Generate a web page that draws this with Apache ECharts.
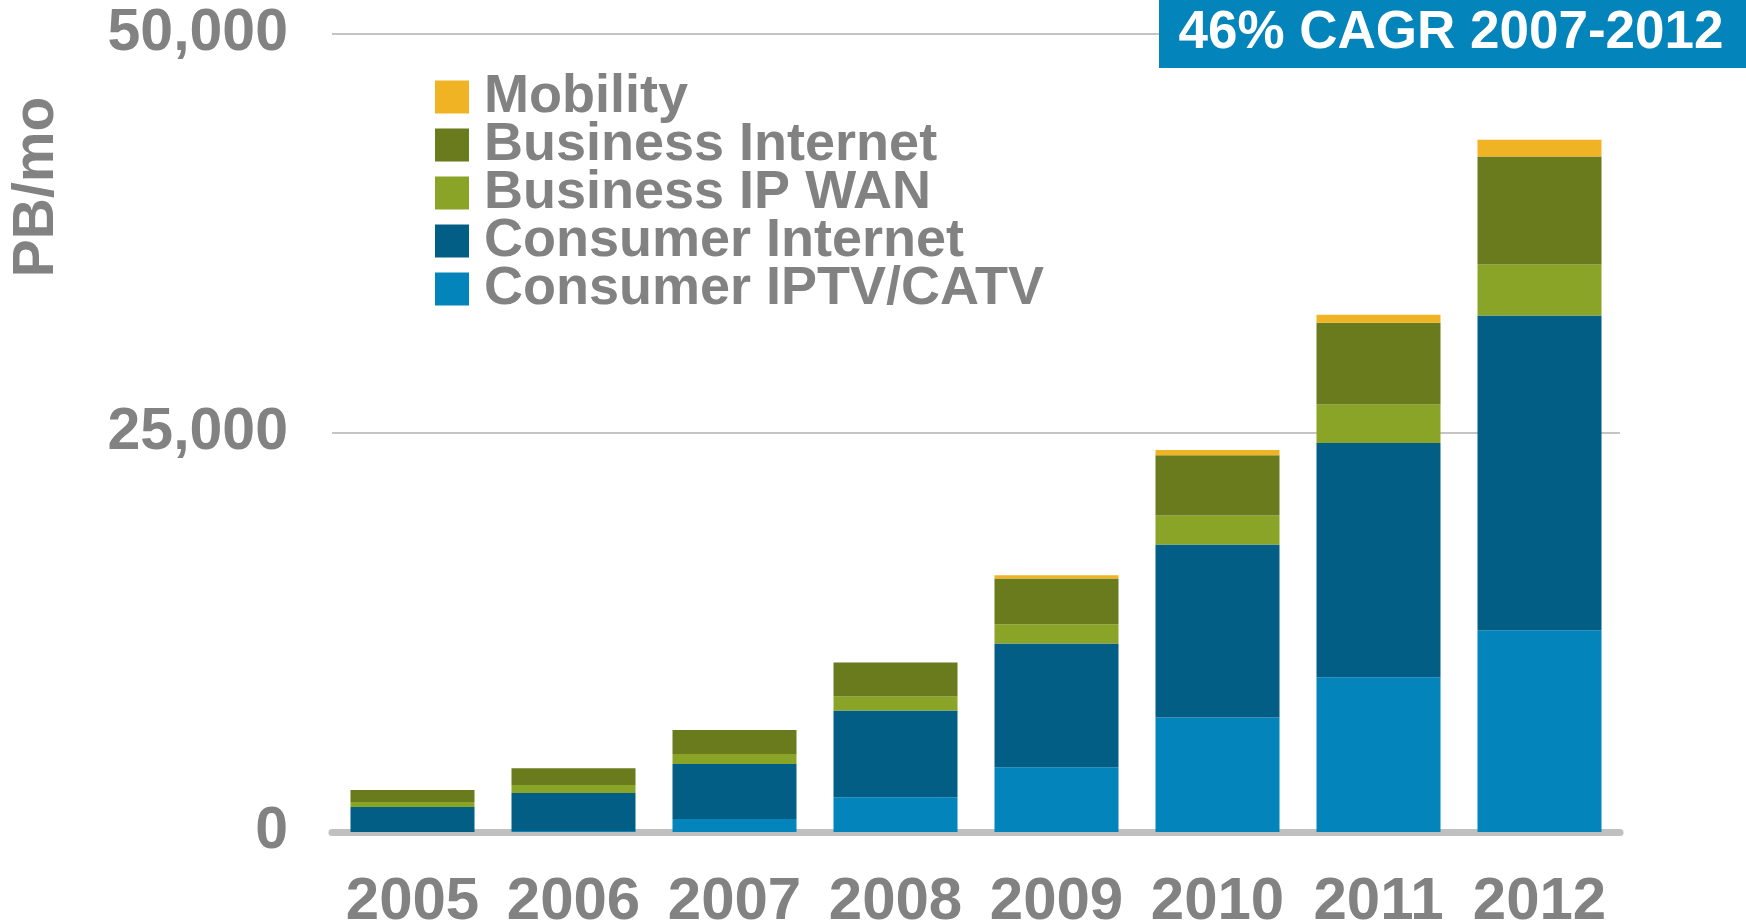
<!DOCTYPE html>
<html>
<head>
<meta charset="utf-8">
<title>IP traffic PB/mo</title>
<script src="https://cdn.jsdelivr.net/npm/echarts@6/dist/echarts.min.js"></script>
<style>
	html, body { margin: 0; padding: 0; background: #fff; }
	#main { width: 1746px; height: 920px; }
</style>
</head>
<body>
<div id="main"></div>
<script>
	// 年份
	var years = ["2005", "2006", "2007", "2008", "2009", "2010", "2011", "2012"];
	// PB/mo, bottom of the stack first
	var consumerIptv = [0, 60, 820, 2170, 4060, 7170, 9690, 12640];
	var consumerInternet = [1570, 2380, 3440, 5440, 7750, 10840, 14680, 19720];
	var businessWan = [310, 500, 630, 880, 1200, 1820, 2410, 3200];
	var businessInternet = [750, 1060, 1500, 2130, 2880, 3780, 5130, 6760];
	var mobility = [0, 0, 0, 0, 190, 330, 500, 1050];
	var legendNames = ["Mobility", "Business Internet", "Business IP WAN", "Consumer Internet", "Consumer IPTV/CATV"];
	var yTicks = [0, 25000, 50000];

	var grey = "#828282";
	var font = "Liberation Sans";

	function bar(name, data, color) {
		return {
			name: name,
			type: "bar",
			stack: "total",
			barWidth: 124,
			itemStyle: { color: color },
			emphasis: { disabled: true },
			data: data
		};
	}

	var myChart = echarts.init(document.getElementById("main"));
	var option = {
		animation: false,
		textStyle: { fontFamily: font },
		grid: {
			left: 332,
			right: 126,
			top: 34,
			bottom: 88,
			outerBoundsMode: "none"
		},
		legend: {
			orient: "vertical",
			left: 430,
			top: 65,
			icon: "rect",
			itemWidth: 34,
			itemHeight: 33,
			itemGap: -6,
			data: legendNames,
			textStyle: {
				fontFamily: font,
				fontSize: 54,
				fontWeight: "bold",
				color: grey,
				padding: [0, 0, 0, 10]
			}
		},
		xAxis: {
			type: "category",
			data: years,
			offset: 3.5,
			axisLine: {
				lineStyle: { color: "#c0c0c0", width: 7, cap: "round" }
			},
			axisTick: { show: false },
			axisLabel: {
				interval: 0,
				margin: 37,
				fontFamily: font,
				fontSize: 60,
				fontWeight: "bold",
				color: grey,
				lineHeight: 60
			}
		},
		yAxis: {
			type: "value",
			min: yTicks[0],
			max: yTicks[yTicks.length - 1],
			interval: yTicks[1] - yTicks[0],
			axisLine: { show: false },
			axisTick: { show: false },
			splitLine: {
				lineStyle: { color: "#c4c4c4", width: 2 }
			},
			axisLabel: {
				margin: 44,
				fontFamily: font,
				fontSize: 59,
				fontWeight: "bold",
				color: grey,
				formatter: function(v) {
					return v.toLocaleString("en-US");
				}
			}
		},
		graphic: [
			{
				type: "text",
				x: 37,
				y: 187,
				rotation: Math.PI / 2,
				style: {
					text: "PB/mo",
					fontFamily: font,
					fontSize: 57,
					fontWeight: "bold",
					fill: grey,
					align: "center",
					verticalAlign: "middle"
				}
			},
			{
				type: "rect",
				z: 100,
				shape: { x: 1159, y: 0, width: 587, height: 68 },
				style: { fill: "#0384ba" }
			},
			{
				type: "text",
				z: 101,
				x: 1451,
				y: 33,
				style: {
					text: "46% CAGR 2007-2012",
					fontFamily: font,
					fontSize: 53,
					fontWeight: "bold",
					fill: "#fff",
					align: "center",
					verticalAlign: "middle"
				}
			}
		],
		series: [
			bar("Consumer IPTV/CATV", consumerIptv, "#0384ba"),
			bar("Consumer Internet", consumerInternet, "#035e86"),
			bar("Business IP WAN", businessWan, "#8aa427"),
			bar("Business Internet", businessInternet, "#697b1d"),
			bar("Mobility", mobility, "#efb323")
		]
	};
	myChart.setOption(option);
</script>
</body>
</html>
